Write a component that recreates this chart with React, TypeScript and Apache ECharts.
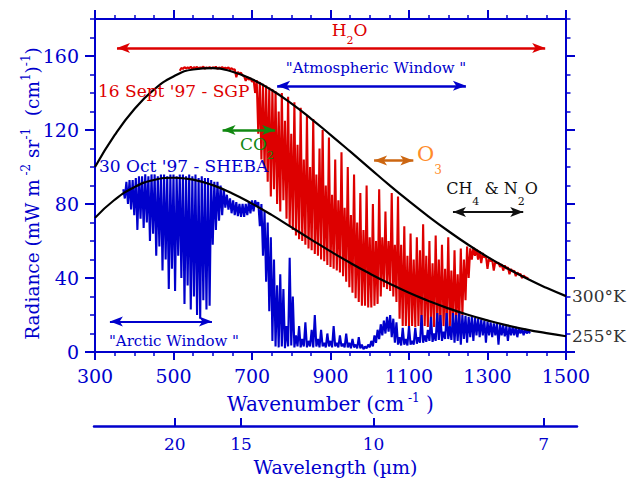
import React, { useEffect, useRef } from 'react';
import * as echarts from 'echarts';

// ---------------- data ----------------
const wavenumberTicks = [300, 500, 700, 900, 1100, 1300, 1500];
const radianceTicks = [0, 40, 80, 120, 160];
const wavelengthTicks = [20, 15, 10, 7]; // micrometres

// Blackbody reference curves (radiance every 50 cm-1)
const planckWavenumber = [300, 350, 400, 450, 500, 550, 600, 650, 700, 750, 800, 850, 900, 950, 1000, 1050, 1100, 1150, 1200, 1250, 1300, 1350, 1400, 1450, 1500];
const planck300K = [100.0, 117.2, 131.2, 141.8, 148.9, 152.7, 153.4, 151.5, 147.4, 141.6, 134.4, 126.2, 117.4, 108.4, 99.3, 90.2, 81.5, 73.2, 65.4, 58.1, 51.4, 45.3, 39.7, 34.7, 30.2];
const planck255K = [72.5, 82.3, 89.1, 93.0, 94.2, 93.2, 90.2, 85.7, 80.2, 74.1, 67.5, 60.9, 54.4, 48.2, 42.4, 37.0, 32.0, 27.6, 23.6, 20.1, 17.1, 14.4, 12.1, 10.2, 8.5];

// 16 Sept '97 - SGP spectrum, wavenumber 516..1404 every 4 cm-1
const sgpStart = 516;
const sgpStep = 4;
const sgpRadiance = [
  152.0, 153.5, 153.0, 154.0, 153.2, 153.8, 153.4, 154.2, 153.0, 153.9, // 516
  153.5, 154.1, 153.2, 153.8, 153.6, 154.2, 153.1, 153.9, 153.4, 154.0, // 556
  153.3, 153.9, 153.5, 154.2, 153.0, 153.8, 153.4, 154.0, 153.2, 153.7, // 596
  153.3, 153.9, 152.8, 153.4, 152.6, 152.9, 148.5, 151.4, 150.6, 150.9, // 636
  149.5, 149.0, 146.5, 148.6, 147.2, 148.0, 146.0, 147.4, 140, 147,     // 676
  118, 146, 104, 145, 99, 144, 92, 143, 84, 142,                       // 716
  88, 141, 80, 130, 76, 140, 82, 125, 72, 138,                         // 756
  68, 118, 66, 135, 63, 112, 61, 132, 60, 104,                         // 796
  58, 128, 56, 100, 55, 126, 53, 96, 52, 110,                          // 836
  50, 120, 49, 90, 47, 116, 46, 85, 45, 104,                           // 876
  44, 82, 43, 108, 41, 78, 38, 100, 35, 74,                            // 916
  32, 96, 29, 70, 27, 86, 25, 66, 25, 90,                              // 956
  24, 62, 24, 80, 25, 60, 26, 88, 30, 62,                              // 996
  35, 76, 34, 60, 33, 86, 30, 58, 27, 84,                              // 1036
  18, 58, 14, 68, 14, 52, 13.5, 64, 14, 50,                            // 1076
  13.5, 62, 14, 55, 13.5, 69, 14, 52, 13.5, 60,                        // 1116
  14, 48, 13.5, 63, 14, 50, 13.5, 58, 14, 45,                          // 1156
  13.5, 62, 14, 44, 14, 55, 15, 42, 16, 56,                            // 1196
  20, 50, 28, 57, 40, 56, 50, 56.5, 52, 55.5,                          // 1236
  50, 54.5, 48, 53.5, 51, 52, 45, 51, 49, 50,                          // 1276
  44, 49, 48, 48.2, 46, 47.5, 44, 46.8, 45, 45.8,                      // 1316
  42, 44.8, 43.5, 44, 41, 43, 42, 42.2, 40, 41.3,                      // 1356
  40.5, 40.2, 39.8                                                     // 1396
];

// 30 Oct '97 - SHEBA spectrum, wavenumber 372..1408 every 4 cm-1
const shebaStart = 372;
const shebaStep = 4;
const shebaRadiance = [
  88, 83, 92, 80, 93, 77, 93, 74, 94, 66,          // 372
  95, 72, 95, 67, 96, 70, 95, 60, 96, 64,          // 412
  96, 52, 95, 57, 96, 44, 96, 50, 95, 34,          // 452
  96, 45, 96, 33, 95, 52, 96, 40, 96, 26,          // 492
  95, 36, 96, 23, 95, 30, 96, 20, 94, 18,          // 532
  95, 28, 94, 23, 94, 25, 93, 58, 92, 66,          // 572
  92, 71, 90, 74, 88, 78, 85, 77, 83, 75,          // 612
  82, 74, 81, 73.5, 80, 73, 80, 73, 80, 74,        // 652
  81, 75, 82, 76, 82, 79, 81, 68, 80, 52,          // 692
  76, 38, 70, 22, 62, 6, 50, 3, 36, 2.5,           // 732
  42, 3, 34, 2, 14, 3, 51, 3.5, 30, 2.5,           // 772
  9, 3, 14, 2.5, 7, 3, 16, 2.5, 6, 3,              // 812
  12, 2.5, 20, 3, 7, 2.5, 12, 3, 5, 2.5,           // 852
  10, 3, 6, 2.5, 14, 3, 5, 2.5, 9, 3,              // 892
  4.5, 2.5, 10, 2.5, 5, 2, 7, 2.5, 4, 2,           // 932
  8, 2, 4, 1.5, 3, 2, 4, 2.5, 6, 3,                // 972
  9, 5, 12, 7, 15, 9, 17, 10, 19, 11,              // 1012
  20, 8, 18, 5, 16, 4, 8, 3.5, 13, 4,              // 1052
  7, 3.5, 14, 4, 6, 4, 13, 4.5, 8, 5,              // 1092
  20, 5, 9, 5.5, 12, 6, 19, 5.5, 10, 6,            // 1132
  21, 6.5, 20, 6, 11, 7, 21, 7, 14, 6.5,           // 1172
  21, 5, 20, 6, 21, 4, 20, 7, 19.5, 5,             // 1212
  19, 8, 19, 6, 18.5, 9, 18, 8, 17.5, 9,           // 1252
  17, 5, 16.5, 9, 16, 8, 15.5, 9, 15.5, 4,         // 1292
  15, 9, 14.5, 8.5, 14, 6, 14, 9, 13.5, 9,         // 1332
  13.5, 8, 13, 10, 12.5, 9, 12.5, 10, 12, 10       // 1372
];

// Annotated spectral bands: [from, to] wavenumber and the radiance level of the arrow
const bandH2O = [356, 1447];
const bandAtmWindow = [764, 1245];
const bandCO2 = [625, 759];
const bandO3 = [1011, 1111];
const bandCH4N2O = [1212, 1391];
const bandArctic = [338, 598];
const levelH2O = 164.3;
const levelAtmWindow = 143.9;
const levelCO2 = 120;
const levelO3 = 103.5;
const levelCH4N2O = 75.7;
const levelArctic = 16.5;

// ---------------- styles ----------------
const FONT = '"DejaVu Serif", serif';
const BLUE = '#0000cc';
const RED = '#dd0000';
const GREEN = '#118811';
const ORANGE_ARROW = '#cc6611';
const ORANGE_TEXT = '#ff8c2a';
const DARK = '#111111';

const sgpData = sgpRadiance.map((v, i) => [sgpStart + i * sgpStep, v]);
const shebaData = shebaRadiance.map((v, i) => [shebaStart + i * shebaStep, v]);
const p300Data = planckWavenumber.map((w, i) => [w, planck300K[i]]);
const p255Data = planckWavenumber.map((w, i) => [w, planck255K[i]]);
const wavelengthPositions = wavelengthTicks.map((l) => 1e4 / l);

function arrowSeries(name: string, span: number[], level: number, color: string, width: number) {
  return {
    type: 'line',
    name,
    data: [],
    xAxisIndex: 0,
    yAxisIndex: 0,
    silent: true,
    z: 6,
    markLine: {
      silent: true,
      animation: false,
      symbol: ['arrow', 'arrow'],
      symbolSize: [7.5, 13],
      label: { show: false },
      emphasis: { disabled: true },
      lineStyle: { color, width, type: 'solid', opacity: 1 },
      data: [[{ coord: [span[0], level] }, { coord: [span[1], level] }]],
    },
  };
}

function subText(
  parts: string,
  x: number,
  y: number,
  color: string,
  size: number,
  lineH: number,
  subSize: number,
  subPad: number,
  align: string
) {
  return {
    type: 'text',
    x,
    y,
    z: 10,
    silent: true,
    style: {
      text: parts,
      align,
      verticalAlign: 'top',
      rich: {
        m: { fontSize: size, lineHeight: lineH, fontFamily: FONT, fill: color, verticalAlign: 'top' },
        s: { fontSize: subSize, lineHeight: subSize, fontFamily: FONT, fill: color, verticalAlign: 'top', padding: [subPad, 0, 0, 0] },
      },
    },
  };
}

function plainText(text: string, x: number, y: number, color: string, size: number, align: string) {
  return {
    type: 'text',
    x,
    y,
    z: 10,
    silent: true,
    style: { text, fontSize: size, fontFamily: FONT, fill: color, align, verticalAlign: 'middle' },
  };
}

const blueLine = { color: BLUE, width: 2 };
const baseX = { type: 'value', min: 300, max: 1500, gridIndex: 0, splitLine: { show: false } };
const baseY = { type: 'value', min: 0, max: 180, gridIndex: 0, splitLine: { show: false } };

const option: any = {
  animation: false,
  backgroundColor: '#ffffff',
  textStyle: { fontFamily: FONT },
  grid: [
    { left: 95, top: 19, width: 471, height: 333 },
    { left: 94, top: 425, width: 483, height: 1 },
  ],
  xAxis: [
    {
      ...baseX,
      position: 'bottom',
      axisLine: { show: true, onZero: false, lineStyle: blueLine },
      axisTick: { show: true, inside: false, length: 8, customValues: wavenumberTicks, lineStyle: blueLine },
      axisLabel: {
        show: true,
        customValues: wavenumberTicks,
        formatter: (v: number) => String(v),
        margin: 14,
        color: BLUE,
        fontSize: 19,
        fontFamily: FONT,
      },
      name: '{n|Wavenumber (cm}{s| -1}{n| )}',
      nameLocation: 'middle',
      nameGap: 40,
      nameTextStyle: {
        rich: {
          n: { fontSize: 20, lineHeight: 24, color: BLUE, fontFamily: FONT },
          s: { fontSize: 12, lineHeight: 12, color: BLUE, fontFamily: FONT, verticalAlign: 'top' },
        },
      },
    },
    {
      ...baseX,
      position: 'bottom',
      interval: 50,
      axisLine: { show: false, onZero: false },
      axisTick: { show: true, length: 4, lineStyle: { color: BLUE, width: 1.5 } },
      axisLabel: { show: false },
    },
    {
      ...baseX,
      position: 'top',
      axisLine: { show: true, onZero: false, lineStyle: blueLine },
      axisTick: { show: true, length: 9, customValues: wavenumberTicks, lineStyle: blueLine },
      axisLabel: { show: false },
    },
    {
      ...baseX,
      position: 'top',
      interval: 50,
      axisLine: { show: false, onZero: false },
      axisTick: { show: true, length: 4, lineStyle: { color: BLUE, width: 1.5 } },
      axisLabel: { show: false },
    },
    {
      type: 'value',
      gridIndex: 1,
      min: 296.6,
      max: 1512.3,
      position: 'bottom',
      splitLine: { show: false },
      axisLine: { show: true, onZero: false, lineStyle: { color: BLUE, width: 2.5 } },
      axisTick: { show: true, inside: true, length: 8, customValues: wavelengthPositions, lineStyle: blueLine },
      axisLabel: {
        show: true,
        customValues: wavelengthPositions,
        formatter: (v: number) => String(Math.round(1e4 / v)),
        margin: 9,
        color: BLUE,
        fontSize: 17,
        fontFamily: FONT,
      },
      name: 'Wavelength (µm)',
      nameLocation: 'middle',
      nameGap: 31,
      nameTextStyle: { color: BLUE, fontSize: 19, fontFamily: FONT },
    },
  ],
  yAxis: [
    {
      ...baseY,
      position: 'left',
      axisLine: { show: true, onZero: false, lineStyle: blueLine },
      axisTick: { show: true, length: 10, customValues: radianceTicks, lineStyle: blueLine },
      axisLabel: { show: true, customValues: radianceTicks, margin: 16, color: BLUE, fontSize: 19, fontFamily: FONT },
      name: '{n|Radiance (mW m}{s| -2}{n| sr}{s|-1}{n|  (cm}{s|1}{n|)}{s|-1}{n|)}',
      nameLocation: 'middle',
      nameGap: 51,
      nameMoveOverlap: false,
      nameTextStyle: {
        padding: [0, 16, 0, 0],
        rich: {
          n: { fontSize: 18.5, lineHeight: 24, color: BLUE, fontFamily: FONT },
          s: { fontSize: 12, lineHeight: 12, color: BLUE, fontFamily: FONT, verticalAlign: 'top' },
        },
      },
    },
    {
      ...baseY,
      position: 'left',
      interval: 10,
      axisLine: { show: false, onZero: false },
      axisTick: { show: true, length: 5, lineStyle: { color: BLUE, width: 1.5 } },
      axisLabel: { show: false },
    },
    {
      ...baseY,
      position: 'right',
      axisLine: { show: true, onZero: false, lineStyle: blueLine },
      axisTick: { show: true, length: 9, customValues: radianceTicks, lineStyle: blueLine },
      axisLabel: { show: false },
    },
    {
      ...baseY,
      position: 'right',
      interval: 10,
      axisLine: { show: false, onZero: false },
      axisTick: { show: true, length: 4.5, lineStyle: { color: BLUE, width: 1.5 } },
      axisLabel: { show: false },
    },
    { type: 'value', gridIndex: 1, min: 0, max: 1, show: false },
  ],
  series: [
    {
      type: 'line',
      name: "16 Sept '97 - SGP",
      data: sgpData,
      xAxisIndex: 0,
      yAxisIndex: 0,
      showSymbol: false,
      symbol: 'none',
      silent: true,
      lineStyle: { color: RED, width: 2.1 },
      z: 2,
    },
    {
      type: 'line',
      name: "30 Oct '97 - SHEBA",
      data: shebaData,
      xAxisIndex: 0,
      yAxisIndex: 0,
      showSymbol: false,
      symbol: 'none',
      silent: true,
      lineStyle: { color: BLUE, width: 2.1 },
      z: 3,
    },
    {
      type: 'line',
      name: '300°K',
      data: p300Data,
      xAxisIndex: 0,
      yAxisIndex: 0,
      smooth: true,
      showSymbol: false,
      symbol: 'none',
      silent: true,
      lineStyle: { color: '#000', width: 2.2 },
      endLabel: { show: true, formatter: '300°K', color: '#333', fontSize: 17, fontFamily: FONT, distance: 6 },
      z: 4,
    },
    {
      type: 'line',
      name: '255°K',
      data: p255Data,
      xAxisIndex: 0,
      yAxisIndex: 0,
      smooth: true,
      showSymbol: false,
      symbol: 'none',
      silent: true,
      lineStyle: { color: '#000', width: 2.2 },
      endLabel: { show: true, formatter: '255°K', color: '#333', fontSize: 17, fontFamily: FONT, distance: 6 },
      z: 4,
    },
    arrowSeries('H2O', bandH2O, levelH2O, RED, 2.5),
    arrowSeries('Atmospheric Window', bandAtmWindow, levelAtmWindow, BLUE, 2.5),
    arrowSeries('CO2', bandCO2, levelCO2, GREEN, 2.5),
    arrowSeries('O3', bandO3, levelO3, ORANGE_ARROW, 2.5),
    arrowSeries('CH4 & N2O', bandCH4N2O, levelCH4N2O, DARK, 2),
    arrowSeries('Arctic Window', bandArctic, levelArctic, BLUE, 2),
  ],
  graphic: [
    subText('{m|H}{s|2}{m|O}', 349.5, 21.7, RED, 17, 20, 11, 13, 'center'),
    plainText('"Atmospheric Window "', 376, 68, BLUE, 15, 'center'),
    plainText("16 Sept '97 - SGP", 98, 91, RED, 17, 'left'),
    subText('{m|CO}{s|2}', 240, 135.5, GREEN, 17, 20, 11, 14.5, 'left'),
    plainText("30 Oct '97 - SHEBA", 99, 165.5, BLUE, 17, 'left'),
    subText('{m|O}{s|3}', 417, 143.5, ORANGE_TEXT, 21, 26, 12, 20, 'left'),
    subText('{m|CH}{s|4}{m| & N}{s|2}{m|O}', 492, 180, DARK, 16, 20, 11, 16, 'center'),
    plainText('"Arctic Window "', 174, 341, BLUE, 15, 'center'),
  ],
};

export default function App() {
  const ref = useRef<HTMLDivElement>(null);
  useEffect(() => {
    if (!ref.current) return;
    const chart = echarts.init(ref.current, null, { renderer: 'svg' });
    chart.setOption(option);
    return () => {
      chart.dispose();
    };
  }, []);
  return (
    <div
      ref={ref}
      style={{ position: 'fixed', left: 0, top: 0, width: 627, height: 479, background: '#ffffff' }}
    />
  );
}
